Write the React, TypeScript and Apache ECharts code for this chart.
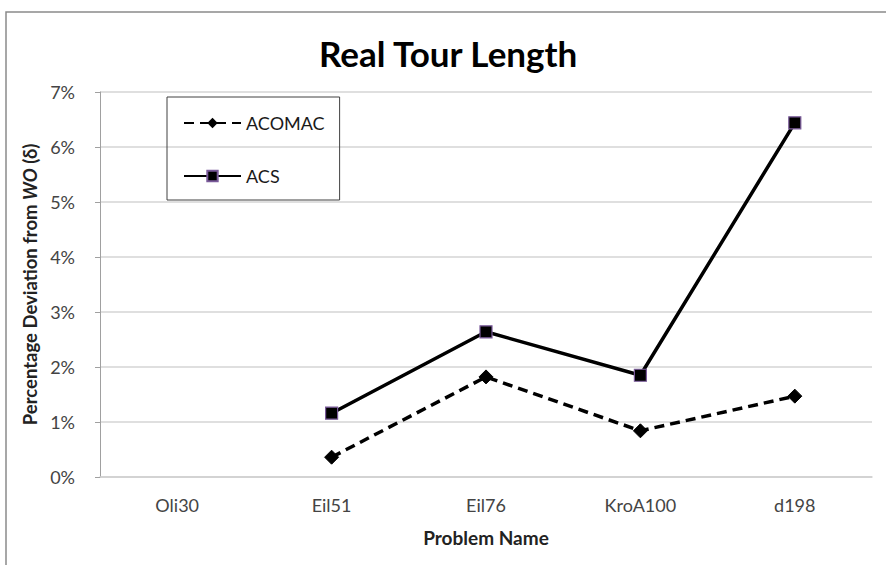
import React, { useEffect, useRef } from "react";
import * as echarts from "echarts";

const categories = ["Oli30", "Eil51", "Eil76", "KroA100", "d198"];
const acomac = [null, 0.36, 1.82, 0.84, 1.47];
const acs = [null, 1.16, 2.64, 1.85, 6.44];
const yTicks = [0, 1, 2, 3, 4, 5, 6, 7];

const FONT = "Lato, 'Open Sans', sans-serif";

export default function App() {
  const ref = useRef<HTMLDivElement>(null);
  useEffect(() => {
    if (!ref.current) return;
    const chart = echarts.init(ref.current, null, { renderer: "svg" });
    chart.setOption({
      animation: false,
      backgroundColor: "#ffffff",
      textStyle: { fontFamily: FONT },
      title: {
        text: "Real Tour Length",
        left: 319,
        top: 35,
        padding: 0,
        textStyle: { fontSize: 35, fontWeight: "bold", color: "#000", fontFamily: FONT },
      },
      graphic: [
        {
          type: "rect",
          shape: { x: 6, y: 12, width: 900, height: 600 },
          style: { fill: "none", stroke: "#8a8a8a", lineWidth: 1.5 },
          silent: true,
          z: -1,
        },
      ],
      legend: {
        orient: "vertical",
        left: 167,
        top: 97,
        padding: [17, 15, 15, 16],
        itemWidth: 57,
        itemHeight: 13,
        itemGap: 35,
        borderColor: "#404040",
        borderWidth: 1,
        textStyle: { fontSize: 18, color: "#1a1a1a", fontFamily: FONT },
        data: ["ACOMAC", "ACS"],
      },
      grid: { left: 100, right: 14, top: 92, bottom: 88 },
      xAxis: {
        type: "category",
        data: categories,
        boundaryGap: true,
        name: "Problem Name",
        nameLocation: "middle",
        nameGap: 51,
        nameTextStyle: { fontSize: 19, fontWeight: "bold", color: "#222", fontFamily: FONT },
        axisLine: { lineStyle: { color: "#cfcfcf", width: 1.5 } },
        axisTick: { show: false },
        axisLabel: { fontSize: 18, color: "#444", margin: 19, fontFamily: FONT },
      },
      yAxis: {
        type: "value",
        min: 0,
        max: 7,
        interval: 1,
        name: "{b|Percentage Deviation from }{i|WO}{b| (δ)}",
        nameLocation: "middle",
        nameGap: 60,
        nameRotate: 90,
        nameTextStyle: {
          rich: {
            b: { fontSize: 18.5, fontWeight: "bold", color: "#222", fontFamily: FONT },
            i: { fontSize: 18.5, fontWeight: "bold", fontStyle: "italic", color: "#222", fontFamily: FONT },
          },
        },
        axisLine: { show: true, lineStyle: { color: "#a0a0a0", width: 1 } },
        axisTick: { show: true, length: 5, lineStyle: { color: "#a0a0a0" } },
        splitLine: { lineStyle: { color: "#d4d4d4", width: 1.5 } },
        axisLabel: {
          fontSize: 18,
          color: "#444",
          margin: 25,
          fontFamily: FONT,
          formatter: (v: number) => (yTicks.includes(v) ? `${v}%` : ""),
        },
      },
      series: [
        {
          name: "ACOMAC",
          type: "line",
          data: acomac,
          symbol: "diamond",
          symbolSize: 14,
          lineStyle: { color: "#000", width: 3.5, type: [10, 6] },
          itemStyle: { color: "#000", borderColor: "#000" },
        },
        {
          name: "ACS",
          type: "line",
          data: acs,
          symbol: "rect",
          symbolSize: 12,
          lineStyle: { color: "#000", width: 3.5, type: "solid" },
          itemStyle: { color: "#000", borderColor: "#7a5a9a", borderWidth: 1.2 },
        },
      ],
    });
    return () => chart.dispose();
  }, []);
  return (
    <div
      ref={ref}
      style={{ position: "fixed", left: 0, top: 0, width: 886, height: 565, background: "#fff" }}
    />
  );
}
